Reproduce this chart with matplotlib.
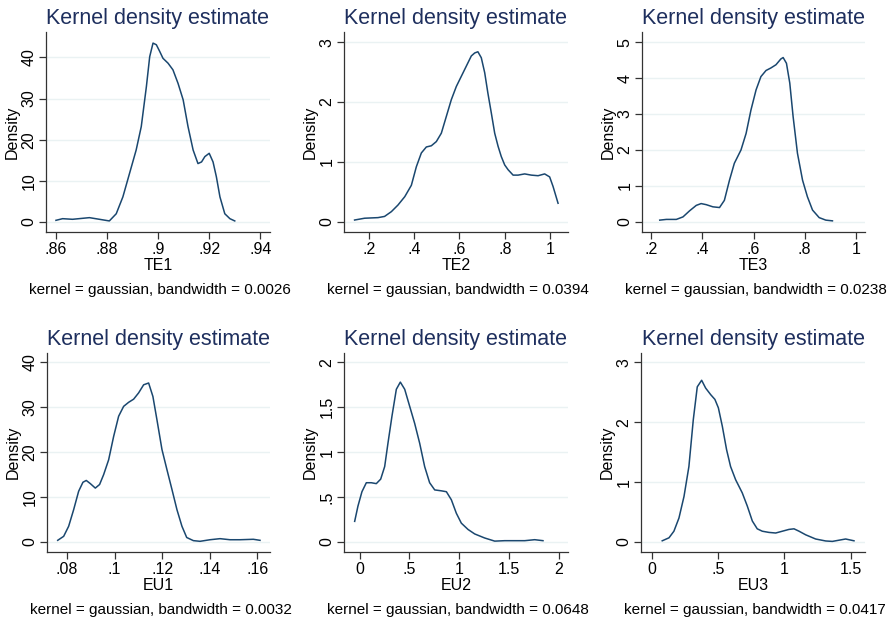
import numpy as np
import matplotlib.pyplot as plt

plt.rcParams['font.family'] = ['Liberation Sans', 'DejaVu Sans']

# ── curves (x, density) ─────────────────────────────────────────────────────
te1_x = [.8600, .8626, .8665, .8731, .8770, .8809, .8836, .8862, .8888, .8914,
         .8934, .8954, .8967, .8980, .8993, .9006, .9019, .9039, .9058, .9078,
         .9098, .9117, .9137, .9156, .9170, .9183, .9200, .9215, .9228, .9242,
         .9261, .9281, .9300]
te1_y = [0.4, 0.8, 0.65, 1.05, 0.65, 0.25, 2.0, 6.1, 11.8, 17.5,
         23.2, 32.9, 40.2, 43.5, 43.1, 41.5, 39.8, 38.6, 37.0, 33.7,
         29.7, 23.2, 17.5, 14.2, 14.6, 15.9, 16.7, 14.6, 11.0, 6.1,
         2.0, 0.8, 0.25]

te2_x = [.138, .182, .241, .270, .300, .329, .359, .388, .410, .432, .454, .476,
         .498, .520, .542, .564, .586, .608, .630, .652, .667, .681, .696, .711,
         .725, .740, .755, .770, .784, .799, .814, .836, .858, .887, .916, .946,
         .975, .997, 1.012, 1.034]
te2_y = [0.03, 0.06, 0.07, 0.09, 0.17, 0.28, 0.42, 0.61, 0.92, 1.15, 1.25, 1.27,
         1.34, 1.48, 1.76, 2.04, 2.26, 2.43, 2.60, 2.77, 2.82, 2.84, 2.74, 2.49,
         2.15, 1.82, 1.48, 1.26, 1.09, 0.95, 0.87, 0.78, 0.78, 0.80, 0.78, 0.77,
         0.80, 0.75, 0.59, 0.31]

te3_x = [.233, .259, .298, .324, .350, .376, .395, .415, .441, .467, .486, .506,
         .525, .551, .571, .590, .610, .629, .649, .668, .688, .707, .716, .729,
         .742, .755, .772, .792, .811, .831, .857, .883, .909]
te3_y = [0.05, 0.07, 0.07, 0.14, 0.31, 0.46, 0.51, 0.48, 0.42, 0.40, 0.60, 1.16,
         1.63, 2.00, 2.46, 3.11, 3.67, 4.04, 4.21, 4.28, 4.37, 4.53, 4.57, 4.41,
         3.86, 2.93, 1.91, 1.16, 0.70, 0.33, 0.12, 0.05, 0.03]

eu1_x = [.0761, .0786, .0807, .0828, .0849, .0867, .0881, .0898, .0919, .0937,
         .0954, .0975, .0996, .1017, .1038, .1059, .1080, .1101, .1122, .1143,
         .1161, .1178, .1199, .1220, .1241, .1262, .1283, .1303, .1331, .1359,
         .1401, .1443, .1485, .1527, .1583, .1611]
eu1_y = [0.37, 1.26, 3.5, 7.2, 11.3, 13.3, 13.7, 13.0, 12.0, 12.8,
         15.0, 18.3, 23.5, 28.0, 30.2, 31.1, 31.8, 33.2, 35.0, 35.4,
         32.4, 27.2, 20.6, 16.1, 11.7, 7.2, 3.5, 1.0, 0.3, 0.15,
         0.5, 0.74, 0.5, 0.5, 0.6, 0.37]

eu2_x = [-0.050, -0.017, 0.023, 0.067, 0.117, 0.167, 0.211, 0.251, 0.284, 0.324,
         0.368, 0.408, 0.452, 0.502, 0.552, 0.602, 0.652, 0.702, 0.753, 0.819,
         0.870, 0.920, 0.970, 1.020, 1.087, 1.154, 1.254, 1.355, 1.455, 1.555,
         1.656, 1.756, 1.839]
eu2_y = [0.23, 0.40, 0.56, 0.66, 0.66, 0.65, 0.70, 0.84, 1.10, 1.40,
         1.70, 1.78, 1.70, 1.51, 1.32, 1.10, 0.84, 0.66, 0.58, 0.57,
         0.56, 0.47, 0.32, 0.21, 0.14, 0.09, 0.045, 0.01, 0.015, 0.015,
         0.015, 0.026, 0.015]

eu3_x = [.080, .131, .168, .206, .244, .281, .314, .344, .377, .407, .445, .477,
         .503, .533, .565, .595, .633, .683, .721, .759, .796, .834, .884, .935,
         .985, 1.035, 1.073, 1.111, 1.161, 1.236, 1.312, 1.362, 1.412, 1.462,
         1.525]
eu3_y = [0.02, 0.07, 0.18, 0.40, 0.76, 1.26, 2.04, 2.59, 2.70, 2.57, 2.46, 2.38,
         2.24, 1.93, 1.54, 1.26, 1.04, 0.82, 0.60, 0.35, 0.22, 0.18, 0.16, 0.15,
         0.18, 0.21, 0.22, 0.18, 0.12, 0.05, 0.017, 0.01, 0.03, 0.05, 0.02]

names      = ["TE1", "TE2", "TE3", "EU1", "EU2", "EU3"]
bandwidths = ["0.0026", "0.0394", "0.0238", "0.0032", "0.0648", "0.0417"]
curves_x   = [te1_x, te2_x, te3_x, eu1_x, eu2_x, eu3_x]
curves_y   = [te1_y, te2_y, te3_y, eu1_y, eu2_y, eu3_y]

xticks = [[.86, .88, .90, .92, .94], [.2, .4, .6, .8, 1.0], [.2, .4, .6, .8, 1.0],
          [.08, .10, .12, .14, .16], [0, .5, 1, 1.5, 2], [0, .5, 1, 1.5]]
xticklabels = [[".86", ".88", ".9", ".92", ".94"], [".2", ".4", ".6", ".8", "1"],
               [".2", ".4", ".6", ".8", "1"], [".08", ".1", ".12", ".14", ".16"],
               ["0", ".5", "1", "1.5", "2"], ["0", ".5", "1", "1.5"]]
yticks = [[0, 10, 20, 30, 40], [0, 1, 2, 3], [0, 1, 2, 3, 4, 5],
          [0, 10, 20, 30, 40], [0, .5, 1, 1.5, 2], [0, 1, 2, 3]]
yticklabels = [["0", "10", "20", "30", "40"], ["0", "1", "2", "3"],
               ["0", "1", "2", "3", "4", "5"], ["0", "10", "20", "30", "40"],
               ["0", ".5", "1", "1.5", "2"], ["0", "1", "2", "3"]]

xlims = [(.8561, .9438), (.0914, 1.0778), (.1636, 1.0364),
         (.0716, .1653), (-0.157, 2.09), (-0.080, 1.608)]
ylims = [(-2.44, 46.2), (-0.17, 3.17), (-0.28, 5.28),
         (-2.23, 42.08), (-0.111, 2.104), (-0.167, 3.155)]

# plot regions in pixels: left, right, top, bottom
boxes = [(46, 270, 32, 232), (344, 568, 32, 232), (642, 865, 32, 232),
         (47, 270, 353, 552), (344, 568, 353, 552), (641, 865, 353, 552)]

W, H = 894, 623
LINE = "#1a476f"
TITLE = "#1e2f5e"
GRID = "#eaf2f3"

fig = plt.figure(figsize=(W / 100, H / 100), dpi=100)
fig.patch.set_facecolor("white")

for i in range(6):
    l, r, t, b = boxes[i]
    ax = fig.add_axes([l / W, 1 - b / H, (r - l) / W, (b - t) / H])
    ax.plot(curves_x[i], curves_y[i], color=LINE, lw=1.1)
    ax.set_xlim(*xlims[i])
    ax.set_ylim(*ylims[i])
    ax.set_xticks(xticks[i])
    ax.set_xticklabels(xticklabels[i])
    ax.set_yticks(yticks[i])
    ax.set_yticklabels(yticklabels[i], rotation=90, va="center")
    ax.grid(axis="y", color=GRID, lw=1.0)
    ax.set_axisbelow(True)
    for s in ("top", "right"):
        ax.spines[s].set_visible(False)
    for s in ("left", "bottom"):
        ax.spines[s].set_color("#333333")
        ax.spines[s].set_linewidth(0.9)
    ax.tick_params(length=5, width=0.9, color="#333333", labelsize=11.5, pad=2)
    ax.set_ylabel("Density", fontsize=11.5, labelpad=1)
    ax.set_xlabel(names[i], fontsize=11.5, labelpad=1)
    ax.set_title("Kernel density estimate", fontsize=15.5, color=TITLE, pad=6)
    ax.annotate(f"kernel = gaussian, bandwidth = {bandwidths[i]}",
                xy=(0.5, 0), xycoords="axes fraction",
                xytext=(2, -62), textcoords="offset pixels",
                ha="center", va="baseline", fontsize=11)

fig.savefig("out.png", dpi=100)
